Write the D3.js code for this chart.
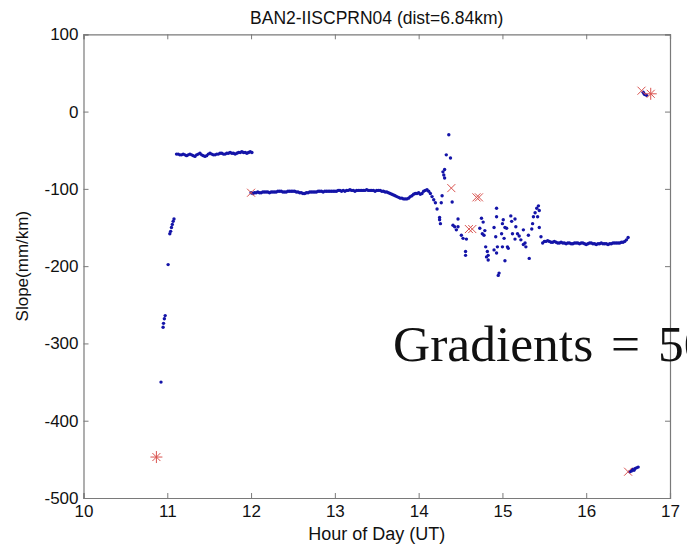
<!DOCTYPE html>
<html><head><meta charset="utf-8">
<script src="https://cdn.jsdelivr.net/npm/d3@7"></script>
<style>html,body{margin:0;padding:0;background:#fff;overflow:hidden}svg{display:block}</style>
</head><body>
<svg id="c" width="687" height="545"></svg>
<script>
const titleText = "BAN2-IISCPRN04 (dist=6.84km)";
const xLabel = "Hour of Day (UT)";
const yLabel = "Slope(mm/km)";
const annotation = "Gradients = 50";
const xTicks = [10, 11, 12, 13, 14, 15, 16, 17];
const yTicks = [100, 0, -100, -200, -300, -400, -500];

// early sparse points [hour, slope]
const earlyPoints = [[10.925,-350],[10.95,-279],[10.955,-274],[10.965,-268],[10.975,-264],[11.01,-198],[11.03,-158],[11.04,-155],[11.05,-150],[11.06,-146],[11.07,-142],[11.08,-139]];

// regularly sampled segments
const seg2Start = 11.11, seg2Step = 0.02;
const seg2Values = [-55,-55,-56,-56,-55,-56,-57,-56,-55,-56,-57,-58,-56,-55,-54,-56,-57,-58,-57,-55,-54,-55,-56,-56,-55,-55,-54,-54,-55,-55,-54,-54,-53,-54,-54,-55,-54,-53,-53,-52,-53,-53,-54,-53,-52,-53];

const seg3Start = 12.0, seg3Step = 0.02;
const seg3Values = [-105,-106,-105,-105,-104,-105,-105,-104,-104,-104,-104,-105,-104,-104,-104,-104,-103,-103,-103,-104,-104,-104,-103,-103,-103,-103,
 -103,-104,-104,-105,-105,-106,-106,-105,-105,-104,-104,-104,-104,-104,-103,-103,-103,-104,-103,-103,-103,-103,-103,-103,-103,
 -103,-102,-102,-103,-102,-103,-102,-102,-101,-102,-102,-103,-102,-102,-102,-102,-102,-102,-101,-102,-102,-102,-102,-103,-102,
 -102,-102,-103,-103,-104,-104,-105,-106,-107,-108,-109,-110,-111,-112,-112,-113,-113,-113,-112,-110,-109,-107,-106,-106,-105,-107,-106,-103,-102,-101,-103,-106,-110,-114,-118];

const seg5Start = 15.48, seg5Step = 0.02;
const seg5Values = [-170,-168,-168,-167,-168,-169,-169,-168,-169,-170,-170,-169,-170,-170,-171,-170,-170,-171,-171,-170,-170,-170,-171,-170,-170,-171,-172,-171,-170,-170,-171,-171,-172,-171,-171,-170,-171,-171,-171,-172,-171,-171,-170,-170,-170,-170,-170,-169,-169,-168,-166,-163];

// scattered section 14.2 - 15.5
const scatterPoints = [[14.36,-30],[14.33,-56],[14.38,-60],[14.29,-78],[14.31,-75],[14.30,-82],[14.31,-86],[14.28,-109],[14.27,-118],[14.40,-117],[14.22,-126],[14.25,-137],[14.25,-140],[14.26,-145],[14.47,-139],[14.41,-147],[14.43,-149],[14.47,-149],[14.45,-153],[14.51,-160],[14.53,-164],[14.57,-165],[14.56,-181],[14.56,-186],[14.75,-138],[14.77,-143],[14.73,-151],[14.79,-154],[14.76,-158],[14.78,-160],[14.80,-175],[14.82,-181],[14.83,-186],[14.83,-192],[14.81,-188],[14.93,-125],[14.93,-136],[14.90,-150],[14.92,-162],[14.90,-179],[14.93,-183],[14.94,-175],[15.03,-193],[14.96,-209],[14.95,-212],[15.01,-140],[15.00,-145],[15.03,-150],[15.05,-151],[14.99,-158],[15.02,-164],[15.00,-175],[15.06,-175],[15.07,-177],[15.10,-135],[15.11,-142],[15.15,-139],[15.12,-158],[15.16,-149],[15.18,-158],[15.15,-165],[15.20,-161],[15.22,-166],[15.25,-153],[15.27,-170],[15.28,-175],[15.25,-172],[15.32,-190],[15.31,-160],[15.35,-152],[15.36,-145],[15.37,-136],[15.39,-131],[15.41,-125],[15.43,-122],[15.44,-128],[15.42,-136],[15.44,-150],[15.46,-162]];

const lowCluster = [[16.52,-466],[16.54,-465],[16.55,-463],[16.57,-464],[16.58,-462],[16.60,-461],[16.62,-460]];
const highCluster = [[16.68,25],[16.69,23],[16.70,22],[16.72,21]];

// red outlier markers
const crossMarks = [[12.0,-105],[14.39,-99],[14.60,-152],[14.64,-152],[14.69,-111],[14.72,-111],[16.50,-466],[16.66,27]];
const starMarks = [[10.87,-447],[16.77,23]];

const svg = d3.select("#c");
const L = 83.5, R = 670, T = 34.3, B = 498;
const x = d3.scaleLinear().domain([10, 17]).range([L, R]);
const y = d3.scaleLinear().domain([-500, 100]).range([B, T]);

const seg = (s, st, vals) => vals.map((v, i) => [s + i * st, v]);
const bluePts = [].concat(earlyPoints, seg(seg2Start, seg2Step, seg2Values), seg(seg3Start, seg3Step, seg3Values),
  scatterPoints, seg(seg5Start, seg5Step, seg5Values), lowCluster, highCluster);

const axisColor = "#7a7a7a";
const sans = "Arial, 'Liberation Sans', sans-serif";
const fmt = d => String(d);
const gB = svg.append("g").attr("transform", `translate(0,${B})`)
  .call(d3.axisBottom(x).tickValues(xTicks).tickSize(-5).tickPadding(7).tickFormat(fmt));
const gT = svg.append("g").attr("transform", `translate(0,${T})`)
  .call(d3.axisTop(x).tickValues(xTicks).tickSize(-5).tickFormat(""));
const gL = svg.append("g").attr("transform", `translate(${L},0)`)
  .call(d3.axisLeft(y).tickValues(yTicks).tickSize(-5).tickPadding(5).tickFormat(fmt));
const gR = svg.append("g").attr("transform", `translate(${R},0)`)
  .call(d3.axisRight(y).tickValues(yTicks).tickSize(-5).tickFormat(""));
[gB, gT, gL, gR].forEach(g => {
  g.select(".domain").attr("stroke", axisColor).attr("stroke-width", 1.2);
  g.selectAll(".tick line").attr("stroke", axisColor).attr("stroke-width", 1);
  g.selectAll(".tick text").attr("fill", "#111").attr("font-family", sans).attr("font-size", 17);
});

// blue data points
svg.append("g").selectAll("circle").data(bluePts).join("circle")
  .attr("cx", d => x(d[0])).attr("cy", d => y(d[1])).attr("r", 1.7)
  .attr("fill", "#1414a8");

// red markers
const red = "#d9534f";
const cm = svg.append("g").attr("stroke", red).attr("stroke-width", 1).attr("fill", "none");
cm.selectAll("path.x").data(crossMarks).join("path").attr("class", "x")
  .attr("d", d => { const cx = x(d[0]), cy = y(d[1]), s = 4; return `M${cx-s},${cy-s}L${cx+s},${cy+s}M${cx-s},${cy+s}L${cx+s},${cy-s}`; });
cm.selectAll("path.s").data(starMarks).join("path").attr("class", "s")
  .attr("d", d => { const cx = x(d[0]), cy = y(d[1]), s = 6, t = 4; return `M${cx-s},${cy}L${cx+s},${cy}M${cx},${cy-s}L${cx},${cy+s}M${cx-t},${cy-t}L${cx+t},${cy+t}M${cx-t},${cy+t}L${cx+t},${cy-t}`; });

// texts
svg.append("text").attr("x", (L + R) / 2).attr("y", 24).attr("text-anchor", "middle")
  .attr("font-family", sans).attr("font-size", 17.5).attr("fill", "#111").text(titleText);
svg.append("text").attr("x", (L + R) / 2).attr("y", 540).attr("text-anchor", "middle")
  .attr("font-family", sans).attr("font-size", 18).attr("fill", "#111").text(xLabel);
svg.append("text").attr("transform", `translate(28,${(T + B) / 2}) rotate(-90)`).attr("text-anchor", "middle")
  .attr("font-family", sans).attr("font-size", 17).attr("fill", "#111").text(yLabel);
svg.append("text").attr("x", 393).attr("y", 361).attr("word-spacing", 5)
  .attr("font-family", "'Liberation Serif', 'Times New Roman', serif").attr("font-size", 51.5).attr("fill", "#111").text(annotation);
</script>
</body></html>
